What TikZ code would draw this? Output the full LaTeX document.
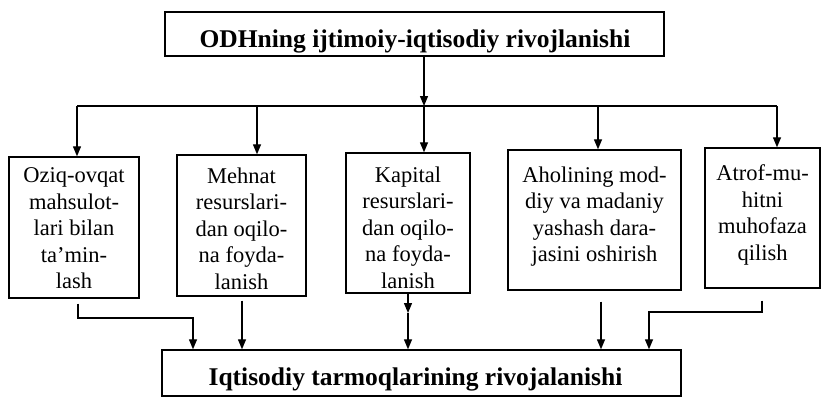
\documentclass[tikz,border=0pt]{standalone}
\usepackage{fontspec}
\setmainfont{Liberation Serif}
\usetikzlibrary{arrows.meta,calc}

\begin{document}
\begin{tikzpicture}[x=1pt,y=-1pt,
  box/.style={draw, line width=1.4pt, rectangle, inner sep=0pt},
  boxtext/.style={align=center, inner sep=0pt, anchor=north, font=\fontsize{22.5}{26.5}\selectfont},
  titletext/.style={inner sep=0pt, anchor=base, font=\bfseries\fontsize{25.5}{30}\selectfont},
  arr/.style={line width=1.3pt, -{Triangle[length=10pt,width=8pt]}},
  ln/.style={line width=1.3pt}]
\useasboundingbox (0,0) rectangle (824,397);

% top box
\node[box, minimum width=499pt, minimum height=44pt] (top) at (414.5,34) {};
\node[titletext] (toptext) at (415,47) {ODHning ijtimoiy-iqtisodiy rivojlanishi};

% middle boxes
\node[box, minimum width=130pt, minimum height=141pt] (b1) at (74,227.5) {};
\node[box, minimum width=129pt, minimum height=141pt] (b2) at (241.5,225.5) {};
\node[box, minimum width=124pt, minimum height=140pt] (b3) at (408,223) {};
\node[box, minimum width=173pt, minimum height=140pt] (b4) at (594.5,220) {};
\node[box, minimum width=115pt, minimum height=140pt] (b5) at (762.5,218) {};

\node[boxtext] (t1) at (74,167.5) {Oziq-ovqat\\mahsulot-\\lari bilan\\ta’min-\\lash};
\node[boxtext] (t2) at (241.5,167.5) {Mehnat\\resurslari-\\dan oqilo-\\na foyda-\\lanish};
\node[boxtext] (t3) at (408,166.5) {Kapital\\resurslari-\\dan oqilo-\\na foyda-\\lanish};
\node[boxtext] (t4) at (594.5,166.5) {Aholining mod-\\diy va madaniy\\yashash dara-\\jasini oshirish};
\node[boxtext] (t5) at (762.5,164.5) {Atrof-mu-\\hitni\\muhofaza\\qilish};

% bottom box
\node[box, minimum width=519pt, minimum height=46pt] (bot) at (421.5,373) {};
\node[titletext] (bottext) at (415.5,385) {Iqtisodiy tarmoqlarining rivojalanishi};

% bus
\coordinate (p1) at (77,106);
\coordinate (p2) at (257,106);
\coordinate (p3) at (424,106);
\coordinate (p4) at (598,106);
\coordinate (p5) at (777,106);
\draw[ln] (p1) -- (p5);
\draw[arr] (top.south -| p3) -- (p3);
\draw[arr] (p1) -- (p1 |- b1.north);
\draw[arr] (p2) -- (p2 |- b2.north);
\draw[arr] (p3) -- (p3 |- b3.north);
\draw[arr] (p4) -- (p4 |- b4.north);
\draw[arr] (p5) -- (p5 |- b5.north);

% to bottom
\coordinate (q1) at (78,318);
\coordinate (r1) at (193,318);
\draw[arr] ($(b1.south -| q1)+(0,5)$) -- (q1) -- (r1) -- (r1 |- bot.north);
\coordinate (q2) at (242,300);
\draw[arr] ($(b2.south -| q2)+(0,4)$) -- (q2 |- bot.north);
\coordinate (m3) at (408,313);
\draw[arr] (b3.south -| m3) -- (m3);
\draw[arr] (m3) -- (m3 |- bot.north);
\coordinate (q4) at (601,300);
\draw[arr] ($(b4.south -| q4)+(0,11)$) -- (q4 |- bot.north);
\coordinate (q5) at (762,312);
\coordinate (r5) at (649,312);
\draw[arr] ($(b5.south -| q5)+(0,12)$) -- (q5) -- (r5) -- (r5 |- bot.north);
\end{tikzpicture}
\end{document}
